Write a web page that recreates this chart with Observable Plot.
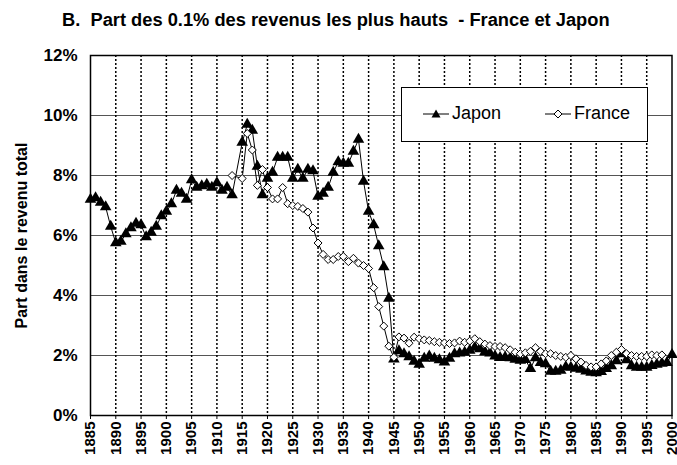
<!DOCTYPE html>
<html>
<head>
<meta charset="utf-8">
<script src="https://cdn.jsdelivr.net/npm/d3@7"></script>
<script src="https://cdn.jsdelivr.net/npm/@observablehq/plot@0.6"></script>
<style>
  html, body { margin: 0; padding: 0; background: #fff; }
  body { width: 677px; height: 465px; position: relative; overflow: hidden; font-family: Arial, "Liberation Sans", sans-serif; }
  #title { position: absolute; left: 62px; top: 9px; font-size: 18.3px; font-weight: bold; white-space: pre; color: #000; }
  #chart { position: absolute; left: 0; top: 40px; }
  #legend { position: absolute; left: 401px; top: 87px; width: 245px; height: 53px; background: #fff; border: 1px solid #000; }
  .item { position: absolute; top: 15px; font-size: 18px; display: flex; align-items: center; }
  .item svg { margin-right: 3px; }
</style>
</head>
<body>
<div id="title">B.  Part des 0.1% des revenus les plus hauts  - France et Japon</div>
<div id="chart"></div>
<div id="legend">
  <div class="item" style="left:21px"><svg width="26" height="12"><line x1="0" y1="6" x2="26" y2="6" stroke="#000"/><path d="M13,1.5 L17.5,9.5 L8.5,9.5 Z" fill="#000"/></svg><span>Japon</span></div>
  <div class="item" style="left:143px"><svg width="26" height="12"><line x1="0" y1="6" x2="26" y2="6" stroke="#000"/><path d="M13,2 L17,6 L13,10 L9,6 Z" fill="#fff" stroke="#000"/></svg><span>France</span></div>
</div>
<script>
// Japon: top 0.1% income share (%)
const japonYears = [1885,1886,1887,1888,1889,1890,1891,1892,1893,1894,1895,1896,1897,1898,1899,1900,1901,1902,1903,1904,1905,1906,1907,1908,1909,1910,1911,1912,1913,1915,1916,1917,1918,1919,1920,1921,1922,1923,1924,1925,1926,1927,1928,1929,1930,1931,1932,1933,1934,1935,1936,1937,1938,1939,1940,1941,1942,1943,1944,1945,1946,1947,1948,1949,1950,1951,1952,1953,1954,1955,1956,1957,1958,1959,1960,1961,1962,1963,1964,1965,1966,1967,1968,1969,1970,1971,1972,1973,1974,1975,1976,1977,1978,1979,1980,1981,1982,1983,1984,1985,1986,1987,1988,1989,1990,1991,1992,1993,1994,1995,1996,1997,1998,1999,2000];
const japonValues = [7.2,7.25,7.1,6.95,6.3,5.75,5.8,6.05,6.25,6.4,6.35,5.95,6.1,6.3,6.65,6.8,7.05,7.5,7.4,7.2,7.85,7.6,7.65,7.7,7.6,7.75,7.5,7.6,7.35,9.1,9.7,9.5,8.3,7.35,7.9,8.1,8.6,8.6,8.6,7.9,8.2,7.9,8.2,8.15,7.3,7.4,7.6,8.1,8.45,8.4,8.4,8.8,9.2,7.8,6.8,6.35,5.65,4.95,3.9,1.88,2.15,2.05,1.95,1.8,1.7,1.9,1.98,1.9,1.85,1.78,1.9,2.05,2.08,2.1,2.17,2.27,2.22,2.12,2.08,1.98,1.93,1.94,1.92,1.87,1.84,1.86,1.56,1.92,1.76,1.72,1.47,1.47,1.5,1.62,1.6,1.57,1.54,1.48,1.44,1.42,1.46,1.56,1.65,1.82,2.05,1.85,1.65,1.6,1.6,1.6,1.66,1.7,1.74,1.76,2.03];
// France: top 0.1% income share (%)
const franceYears = [1913,1915,1916,1917,1918,1919,1920,1921,1922,1923,1924,1925,1926,1927,1928,1929,1930,1931,1932,1933,1934,1935,1936,1937,1938,1939,1940,1941,1942,1943,1944,1945,1946,1947,1948,1949,1950,1951,1952,1953,1954,1955,1956,1957,1958,1959,1960,1961,1962,1963,1964,1965,1966,1967,1968,1969,1970,1971,1972,1973,1974,1975,1976,1977,1978,1979,1980,1981,1982,1983,1984,1985,1986,1987,1988,1989,1990,1991,1992,1993,1994,1995,1996,1997,1998];
const franceValues = [8.0,7.9,9.4,8.85,7.67,8.2,7.6,7.22,7.22,7.6,7.06,7.0,6.97,6.9,6.78,6.25,5.75,5.37,5.2,5.2,5.3,5.3,5.13,5.24,5.08,5.0,4.9,4.26,3.63,2.98,2.31,1.94,2.62,2.58,2.41,2.61,2.56,2.52,2.5,2.46,2.44,2.42,2.4,2.42,2.48,2.44,2.48,2.56,2.46,2.38,2.33,2.3,2.3,2.26,2.19,2.11,2.06,2.09,2.14,2.26,2.14,2.06,2.06,2.0,1.97,1.94,2.0,1.89,1.78,1.67,1.62,1.62,1.72,1.82,2.0,2.11,2.2,2.06,2.0,1.97,1.97,1.97,2.02,2.0,2.02];
const xTicks = d3.range(1885, 2001, 5);
const yTicks = [0, 2, 4, 6, 8, 10, 12];
const yGrid = [2, 4, 6, 8, 10];
const xGrid = d3.range(1890, 2000, 5);

const japon = japonYears.map((y, i) => ({year: y, value: japonValues[i]}));
const france = franceYears.map((y, i) => ({year: y, value: franceValues[i]}));

const chart = Plot.plot({
  width: 677,
  height: 425,
  marginLeft: 90,
  marginRight: 5.5,
  marginTop: 15,
  marginBottom: 50,
  style: {fontFamily: "Arial, 'Liberation Sans', sans-serif", fontWeight: "bold", background: "#fff", color: "#000", overflow: "visible"},
  x: {domain: [1885, 2000]},
  y: {domain: [0, 12]},
  marks: [
    Plot.ruleY(yGrid, {stroke: "#555", strokeWidth: 1}),
    Plot.ruleX(xGrid, {stroke: "#000", strokeWidth: 1.5, strokeDasharray: "2,2"}),
    Plot.frame({stroke: "#000", strokeWidth: 1.5}),
    Plot.axisX({ticks: xTicks, tickFormat: d => String(d), tickRotate: -90, tickSize: 4, tickPadding: 2, fontSize: 15, fontWeight: "bold", label: null}),
    Plot.axisY({ticks: yTicks, tickFormat: d => d + "%", tickSize: 0, tickPadding: 13, fontSize: 17, fontWeight: "bold", label: null}),
    Plot.text(["Part dans le revenu total"], {frameAnchor: "left", textAnchor: "middle", rotate: -90, dx: -69, fontSize: 16, fontWeight: "bold"}),
    Plot.line(japon, {x: "year", y: "value", stroke: "#000", strokeWidth: 1}),
    Plot.dot(japon, {x: "year", y: "value", symbol: "triangle", fill: "#000", r: 4.3}),
    Plot.line(france, {x: "year", y: "value", stroke: "#000", strokeWidth: 1}),
    Plot.dot(france, {x: "year", y: "value", symbol: "diamond2", fill: "#fff", stroke: "#000", strokeWidth: 1, r: 3.6})
  ]
});
document.getElementById("chart").appendChild(chart);
</script>
</body>
</html>
